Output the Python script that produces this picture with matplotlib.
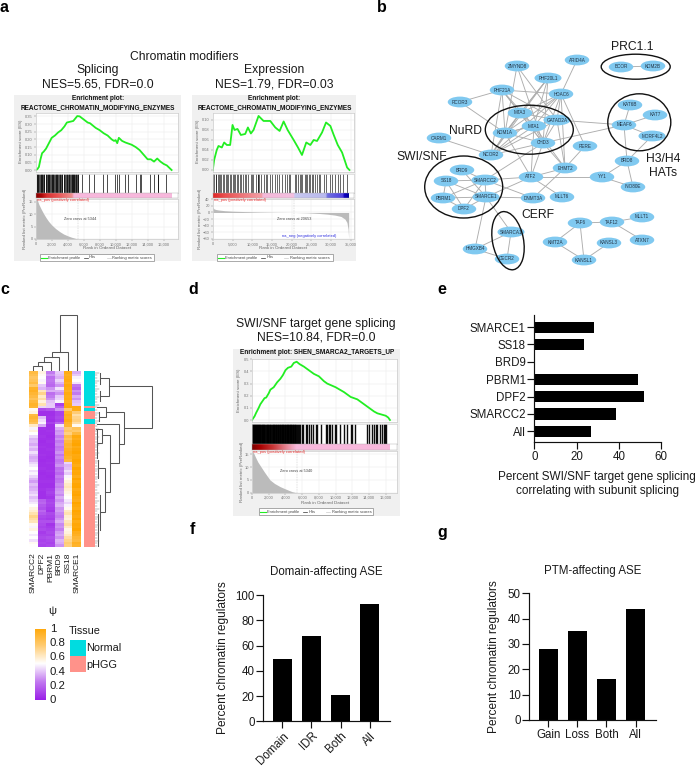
import numpy as np
import matplotlib
matplotlib.use("Agg")
import matplotlib.pyplot as plt
from matplotlib.colors import LinearSegmentedColormap
from matplotlib.patches import Ellipse, Rectangle

plt.rcParams['font.family'] = ['Liberation Sans', 'DejaVu Sans']
W, H = 697, 767

# ---------- panel a/d data ----------
a1_rank = [0,200,400,600,800,1000,1300,1600,2000,2400,2800,3200,3600,3900,4300,4700,5200,5500,6000,6500,6800,7500,8000,8500,9000,9500,9800,10000,10200,10400,10800,11200,12000,12500,13000,13500,14000,14400,14800,15200,15600,16000,16400,17000]
a1_es = [0,.005,.02,.07,.11,.12,.14,.17,.21,.225,.245,.26,.285,.31,.315,.32,.352,.35,.33,.31,.305,.275,.26,.24,.225,.20,.19,.195,.175,.21,.19,.18,.165,.15,.13,.10,.07,.07,.055,.075,.055,.04,.03,0]
a1_hits = [120,200,280,310,420,500,620,700,760,840,950,1020,1100,1240,1310,1400,1480,1560,1620,1700,1840,1900,1980,2050,2140,2200,2300,2420,2480,2560,2640,2700,2760,2900,3000,3060,3180,3240,3320,3500,3600,3680,3760,3860,3950,4060,4120,4180,4260,4400,4480,4560,4640,4700,4760,4850,4940,5000,5080,5150,5240,5320,5760,6720,7300,8390,8890,9940,10230,10480,11190,11600,12570,13070,13150,14320,14820,15240,15360,16280]
a1_mrank = [0,200,400,700,1000,1300,1600,2000,2500,3000,3500,4000,4500,5000,5344,17000]
a1_metric = [16.2,15.8,14,12,10.2,8.6,7.2,5.7,4.2,3,2,1.3,.7,.25,0,0]

a2_rank = [0,340,1000,1440,2290,2880,3560,4400,5000,5500,6270,7110,8220,8900,9650,10330,11600,12870,13720,14570,15840,16940,17960,18970,20500,21600,22610,23700,24730,25580,26430,27700,28710,29810,30660,31680,32780,34050,34640]
a2_es = [0,.02,.04,.048,.045,.055,.05,.05,.09,.08,.082,.07,.072,.085,.073,.08,.108,.098,.098,.098,.085,.078,.097,.08,.06,.045,.03,.055,.05,.06,.058,.075,.095,.088,.07,.05,.035,.005,0]
a2_hits = [150,420,700,900,1250,1500,1800,2200,2500,2800,3300,3500,3900,4400,4600,5100,5300,5600,6200,6500,6900,7100,7700,8200,8400,8800,9600,9900,10300,11000,11400,11500,11700,12200,12900,13400,13800,14500,15000,15700,16300,16800,17600,18300,18800,19300,19700,20900,21100,21700,22000,22300,22700,23300,23600,24000,24300,24700,25100,25500,25900,26400,26800,27200,28100,28700,29600,30300,30900,31700,32300,33100,34000]
a2_mrank = [0,300,800,1500,3000,5000,8000,12000,16000,20650,24000,27000,29000,31000,32500,33500,34000,34300,34450]
a2_metric = [16,11,9,7.5,5.5,4,2.8,1.5,.6,0,-1,-3,-5,-8,-12,-20,-30,-50,-80]

d_rank = [0,300,500,800,1000,1200,1500,1700,2000,2200,2600,3000,3400,3700,4000,4300,4700,5000,5340,5700,6200,6800,7400,8000,8600,9000,10000,11000,11800,12600,13400,14000,14600,15000,15500,16000,16300,16500]
d_es = [0,.03,.06,.10,.13,.15,.18,.185,.22,.25,.27,.31,.34,.37,.41,.43,.44,.47,.48,.46,.44,.41,.38,.36,.32,.30,.27,.23,.19,.17,.13,.10,.07,.055,.045,.035,.02,0]
d_hits = [30,90,150,210,270,330,390,450,510,570,640,700,760,820,880,950,1010,1070,1150,1230,1280,1360,1420,1490,1600,1680,1750,1830,1890,1950,2050,2130,2190,2250,2400,2470,2530,2600,2680,2760,2840,2900,3000,3090,3150,3220,3300,3380,3460,3530,3600,3680,3760,3830,3900,3980,4060,4130,4200,4280,4350,4430,4500,4570,4650,4720,4800,4870,4950,5020,5100,5170,5250,5330,5540,5650,5760,6000,6120,6500,6620,6800,7100,7250,7640,7800,8300,8850,9000,9200,9350,9600,9900,10100,10500,11000,11400,11900,12000,12300,13750,14000,14400,14650,14800,15000,15300,15500,15750,15900,16050]
d_mrank = [0,200,400,700,1100,1500,2150,2700,3350,3900,4350,4800,5340,16500]
d_metric = [16.2,15.5,14,12,10,8,5,3.6,2.4,1.6,1,.4,0,0]

strip_pos = [(0,'#8B0000'),(700,'#B00808'),(1300,'#D83030'),(2600,'#E85050'),(4500,'#F09090'),(4700,'#F8B8DC'),(17000,'#F8B8DC')]
strip_d = [(0,'#7A0000'),(900,'#A80000'),(2500,'#C83838'),(4200,'#E88A9A'),(5300,'#F8B8DC'),(16500,'#F8B8DC')]
strip_exp = [(0,'#E02828'),(3000,'#EA5050'),(12400,'#F4A0A8'),(12600,'#F4B8D8'),(20500,'#F4C0E0'),(20700,'#C8C8F0'),(28700,'#B8B8EE'),(29000,'#7070E0'),(33000,'#5040E0'),(33400,'#1000C0'),(34450,'#0000A0')]

# ---------- panel b data ----------
node_names = ['ARID4A','ZMYND8','BCOR','KDM2B','PHF20L1','PHF21A','HDAC6','RCOR3','KAT6B','KAT7','MTA3','GATAD2A','MEAF6','MTA1','KDM1A','MORF4L2','CARM1','CHD3','RERE','NCOR2','BRD8','EHMT2','BRD9','ATF2','YY1','SMARCC2','SS18','INO80E','SMARCE1','PBRM1','DNMT3A','MLLT6','DPF2','MLLT1','TAF6','TAF12','SMARCA1','ATXN7','KMT2A','KANSL3','HMGXB4','CECR2','KANSL1']
node_x = [577,517,621,653,548,502,561,460,630,655,520,557,624,534,505,652,439,543,585,491,627,565,462,531,602,485,446,633,486,443,533,562,464,642,580,612,511,642,555,609,475,507,584]
node_y = [60,66,67,66,78,90,94,102,105,115,113,120,125,126,133,136,138,143,146,155,161,168,170,177,177,180,181,187,197,198,198,197,209,217,223,222,232,240,242,243,249,259,260]
edges = ['ARID4A-HDAC6','ZMYND8-GATAD2A','ZMYND8-CHD3','ZMYND8-KDM1A','PHF20L1-KDM1A','PHF20L1-MTA1','PHF20L1-MTA3','PHF20L1-CHD3','PHF20L1-NCOR2','PHF21A-RCOR3','PHF21A-HDAC6','PHF21A-MTA1','PHF21A-KDM1A','PHF21A-CHD3','PHF21A-GATAD2A','PHF21A-NCOR2','PHF21A-MTA3','RCOR3-KDM1A','HDAC6-KDM1A','HDAC6-MTA1','HDAC6-MTA3','HDAC6-GATAD2A','HDAC6-CHD3','HDAC6-NCOR2','HDAC6-EHMT2','HDAC6-RERE','MTA3-KDM1A','MTA3-MTA1','MTA3-GATAD2A','MTA3-CHD3','MTA1-KDM1A','MTA1-GATAD2A','MTA1-CHD3','KDM1A-CHD3','KDM1A-GATAD2A','GATAD2A-CHD3','GATAD2A-MEAF6','CHD3-MEAF6','NCOR2-MTA1','NCOR2-CHD3','NCOR2-GATAD2A','NCOR2-MTA3','NCOR2-CARM1','NCOR2-KDM1A','RERE-EHMT2','GATAD2A-EHMT2','CHD3-EHMT2','MTA1-EHMT2','ATF2-CHD3','ATF2-MTA1','ATF2-KDM1A','ATF2-EHMT2','ATF2-SMARCC2','ATF2-SMARCE1','ATF2-YY1','ATF2-MLLT6','EHMT2-DNMT3A','SMARCC2-CHD3','SMARCC2-BRD9','SMARCC2-SS18','SMARCC2-PBRM1','SMARCC2-SMARCE1','SMARCC2-DPF2','SMARCC2-DNMT3A','SMARCE1-BRD9','SMARCE1-SS18','SMARCE1-PBRM1','SMARCE1-DPF2','SMARCE1-DNMT3A','SS18-PBRM1','SS18-DPF2','PBRM1-DPF2','SMARCE1-SMARCA1','SMARCE1-HMGXB4','SMARCA1-HMGXB4','SMARCA1-CECR2','HMGXB4-CECR2','YY1-BRD8','YY1-INO80E','BRD8-INO80E','BRD8-MEAF6','BRD8-MORF4L2','MEAF6-KAT6B','MEAF6-KAT7','MEAF6-MORF4L2','BCOR-KDM2B','TAF6-TAF12','TAF6-KMT2A','TAF6-KANSL1','TAF12-MLLT1','TAF12-ATXN7','KMT2A-KANSL1','KANSL3-KANSL1']
groups = [('PRC1.1',635.7,66.7,69,25,0),('HATs',639.3,122.3,63,57,0),('NuRD',529.3,129.7,88,49,0),('SWI',463.7,187,78,62,0),('CERF',508,240.7,31,59,-11)]
group_labels = [('PRC1.1',632,46.5),('NuRD',465.5,131),('SWI/SNF',422,157.5),('CERF',538,215),('H3/H4',663,158.5),('HATs',663,172.5)]

# ---------- panel c data ----------
genes = ['SMARCC2','DPF2','PBRM1','BRD9','SS18','SMARCE1']
psi_smarcc2 = [.85,.82,.78,.80,.84,.76,.90,.92,.88,.85,.80,
               .86,.90,.88,.52,.55,.85,.88,.85,.80,.60,.48,
               .56,.50,.42,.36,.38,.34,.40,.36,.44,.38,.34,
               .36,.42,.46,.50,.44,.48,.42,.36,.32,.38,.34,
               .36,.40,.44,.38,.42,.46,.50,.55,.58,.64,.70,
               .66,.62,.52,.48,.55,.50,.46,.50,.44,.52,.50]
psi_dpf2 = [.55,.52,.50,.48,.52,.40,.36,.62,.70,.60,.66,
            .56,.64,.42,.12,.05,.05,.38,.44,.48,.34,.06,
            .05,.05,.06,.05,.04,.05,.06,.05,.05,.06,.05,
            .04,.05,.05,.06,.05,.04,.05,.05,.06,.05,.05,
            .06,.05,.05,.05,.18,.20,.16,.14,.20,.16,.12,
            .10,.14,.12,.10,.12,.08,.10,.12,.10,.12,.10]
psi_pbrm1 = [.25,.30,.22,.24,.22,.20,.30,.35,.22,.25,.30,
             .38,.40,.40,.15,.05,.05,.06,.05,.10,.05,.05,
             .06,.05,.04,.05,.06,.05,.05,.06,.05,.05,.04,
             .05,.06,.05,.05,.06,.05,.04,.05,.06,.05,.05,
             .08,.10,.08,.06,.10,.12,.10,.08,.06,.12,.10,
             .08,.14,.06,.08,.10,.12,.10,.14,.12,.10,.12]
psi_brd9 = [.40,.38,.35,.42,.36,.30,.45,.35,.30,.40,.42,
            .48,.10,.18,.30,.10,.10,.12,.10,.20,.45,.35,
            .30,.32,.26,.30,.25,.28,.24,.26,.30,.24,.28,
            .24,.26,.30,.22,.24,.20,.26,.22,.24,.28,.26,
            .30,.32,.28,.34,.30,.34,.36,.30,.32,.28,.26,
            .30,.34,.28,.30,.26,.32,.34,.30,.36,.34,.30]
psi_ss18 = [.95,.92,.94,.96,.93,.97,.95,.92,.96,.94,.95,
            .92,.96,.97,.76,.90,.94,.92,.95,.90,.88,.74,
            .78,.72,.84,.80,.86,.90,.88,.92,.94,.93,.90,
            .86,.42,.36,.38,.44,.40,.48,.52,.56,.60,.62,
            .58,.55,.52,.50,.46,.42,.48,.52,.60,.64,.58,
            .56,.62,.66,.60,.54,.56,.60,.66,.70,.74,.72]
psi_smarce1 = [.35,.40,.48,.50,.45,.25,.20,.30,.25,.35,.30,
               .38,.40,.96,.95,.74,.65,.70,.72,.66,.52,.80,
               .76,.86,.97,.94,.98,1,.95,.98,1,.96,.97,
               1,.98,.95,1,.97,.98,.94,1,.96,.99,1,
               .95,.98,1,.96,.94,1,.97,.95,1,.98,.96,
               1,.95,.98,.97,1,.94,.92,.88,.86,.92,.90]
psi_matrix = np.array([psi_smarcc2, psi_dpf2, psi_pbrm1, psi_brd9, psi_ss18, psi_smarce1]).T
tissue_rows = [0]*13 + [1] + [0] + [1]*3 + [0]*2 + [1]*46
psi_ticks = [1, .8, .6, .4, .2, 0]

# ---------- bar data ----------
e_names = ['SMARCE1','SS18','BRD9','PBRM1','DPF2','SMARCC2','All']
e_vals = [28.4,23.7,0,49.3,52.1,38.7,26.7]
f_names = ['Domain','IDR','Both','All']
f_vals = [49,67.5,21,93]
g_names = ['Gain','Loss','Both','All']
g_vals = [28,35,16,44]

# ---------- figure ----------
fig = plt.figure(figsize=(W/100, H/100), dpi=100, facecolor='white')
def axpx(x0, y0, x1, y1, **kw):
    return fig.add_axes([x0/W, 1-y1/H, (x1-x0)/W, (y1-y0)/H], **kw)

ov = axpx(0, 0, W, H, zorder=0)
ov.set_xlim(0, W); ov.set_ylim(H, 0); ov.axis('off')

def txt(x, y, s, size=8.6, **kw):
    kw.setdefault('ha', 'center'); kw.setdefault('va', 'center'); kw.setdefault('color', '#1a1a1a')
    return ov.text(x, y, s, fontsize=size, **kw)

def style_small(ax):
    for s in ax.spines.values():
        s.set_color('#cccccc'); s.set_linewidth(.5)
    ax.tick_params(length=1.2, width=.3, labelsize=2.9, colors='#777777', pad=1)
    ax.grid(True, color='#e6e6e6', lw=.3)
    ax.set_axisbelow(True)

def gsea(bg, ax_x, es_y, hit_y, strip_y, met_y, xmax, rank, es, es_lim, es_ticks, es_fmt,
         hits, hit_lw, hit_alpha, strip, mrank, metric, met_lim, met_ticks, xticks,
         title, tx, ty, ly1, ly2, zero, zx, zy, lbox, xlab_y, neg=None):
    ov.add_patch(Rectangle((bg[0], bg[1]), bg[2]-bg[0], bg[3]-bg[1], color='#f0f0f0', lw=0, zorder=0))
    for i, t in enumerate(title):
        txt(tx, ty + i*8.2, t, size=4.7, weight='bold', color='#111111')
    ax = axpx(ax_x[0], es_y[0], ax_x[1], es_y[1], zorder=2)
    ax.plot(rank, es, color='#22ee22', lw=1.3)
    ax.set_xlim(0, xmax); ax.set_ylim(*es_lim)
    ax.set_yticks(es_ticks); ax.set_yticklabels([es_fmt.format(v) for v in es_ticks])
    ax.set_xticks(xticks); ax.tick_params(labelbottom=False)
    style_small(ax)
    ax.tick_params(axis='x', length=0)
    # hits
    ah = axpx(ax_x[0], hit_y[0], ax_x[1], hit_y[1], zorder=2)
    ah.vlines(hits, 0, 1, color='black', lw=hit_lw, alpha=hit_alpha)
    ah.set_xlim(0, xmax); ah.set_ylim(0, 1); ah.set_xticks([]); ah.set_yticks([])
    for s in ah.spines.values():
        s.set_color('#cccccc'); s.set_linewidth(.4)
    # colour strip
    aS = axpx(ax_x[0], strip_y[0], ax_x[1], strip_y[1], zorder=2)
    end = strip[-1][0]
    cm = LinearSegmentedColormap.from_list('s', [(p/end, c) for p, c in strip])
    aS.imshow(np.linspace(0, 1, 400)[None, :], extent=(0, end, 0, 1), aspect='auto', cmap=cm)
    aS.set_xlim(0, xmax); aS.set_ylim(0, 1); aS.set_xticks([]); aS.set_yticks([])
    for s in aS.spines.values():
        s.set_color('#aaaaaa'); s.set_linewidth(.3)
    # metric
    am = axpx(ax_x[0], met_y[0], ax_x[1], met_y[1], zorder=2)
    am.fill_between(mrank, 0, metric, color='#bbbbbb', lw=0)
    am.set_xlim(0, xmax); am.set_ylim(*met_lim)
    am.set_yticks(met_ticks); am.set_xticks(xticks)
    am.set_xticklabels([f'{v:,}' for v in xticks])
    style_small(am)
    am.axvline(zero, color='#aaaaaa', lw=.3, ls=(0, (2, 2)))
    # small texts drawn over the grey fill
    am.text(ax_x[0]+1, met_y[0]+1.4, 'na_pos (positively correlated)', fontsize=2.9, color='#e83030',
            ha='left', va='center', transform=ov.transData, zorder=6, clip_on=False)
    if neg:
        am.text(neg[0], neg[1], 'na_neg (negatively correlated)', fontsize=2.9, color='#3030e0',
                ha='center', va='center', transform=ov.transData, zorder=6, clip_on=False)
    am.text(zx, zy, f'Zero cross at {zero}', fontsize=2.8, color='#444444',
            ha='center', va='center', transform=ov.transData, zorder=6, clip_on=False)
    txt((ax_x[0]+ax_x[1])/2, xlab_y, 'Rank in Ordered Dataset', size=3.2, color='#666666')
    txt(ly1[0], ly1[1], 'Enrichment score (ES)', size=3.2, color='#666666', rotation=90)
    txt(ly2[0], ly2[1], 'Ranked list metric (PreRanked)', size=3.2, color='#666666', rotation=90)
    # legend box
    x0, y0, x1, y1 = lbox
    ov.add_patch(Rectangle((x0, y0), x1-x0, y1-y0, fc='white', ec='#888888', lw=.5, zorder=1))
    ym = (y0+y1)/2
    ov.plot([x0+.7, x0+6.7], [ym, ym], color='#22ee22', lw=.8, zorder=2)
    ov.plot([x0+44, x0+47.7], [ym, ym], color='#333333', lw=.5, zorder=2)
    ov.plot([x0+66.7, x0+71], [ym, ym], color='#cccccc', lw=.5, zorder=2)
    txt(x0+8, ym, 'Enrichment profile', size=2.9, ha='left', color='#444444', zorder=2)
    txt(x0+49, ym, 'Hits', size=2.9, ha='left', color='#444444', zorder=2)
    txt(x0+72.3, ym, 'Ranking metric scores', size=2.9, ha='left', color='#444444', zorder=2)

TITLE_A = ['Enrichment plot:', 'REACTOME_CHROMATIN_MODIFYING_ENZYMES']
gsea((14, 95, 181, 261), (35.7, 178), (112.7, 171.7), (174, 193.3), (193.3, 198.3), (199, 239), 17800,
     a1_rank, a1_es, (-0.011, 0.374), [0,.05,.10,.15,.20,.25,.30,.35], '{:.2f}',
     a1_hits, .7, .7, strip_pos, a1_mrank, a1_metric, (0, 16.2), [0,5,10,15],
     [0,2000,4000,6000,8000,10000,12000,14000,16000],
     TITLE_A, 98, 99, (21, 141), (25, 219), 5344, 80, 218.5, (40, 254, 154, 261), 248)
gsea((191.7, 95, 355.5, 261), (212.8, 354), (112.7, 171.7), (174, 193.3), (193.3, 198.3), (199, 239), 35800,
     a2_rank, a2_es, (-0.0034, 0.1145), [0,.02,.04,.06,.08,.10], '{:.2f}',
     a2_hits, .7, .6, strip_exp, a2_mrank, a2_metric, (-80.5, 41), [40,20,0,-20,-40,-60,-80],
     [0,5000,10000,15000,20000,25000,30000,35000],
     TITLE_A, 274.5, 99, (198, 141), (200.5, 219), 20653, 294, 218.5, (217.3, 254, 332.7, 261), 248, neg=(309, 236))
gsea((233.3, 349.3, 400, 516), (252, 397.3), (359.3, 421.7), (424, 444.3), (444.3, 450), (450.5, 492.7), 17380,
     d_rank, d_es, (-0.014, 0.5), [0,.1,.2,.3,.4,.5], '{:.1f}',
     d_hits, 1.0, .95, strip_d, d_mrank, d_metric, (0, 16.5), [0,5,10,15],
     [0,2000,4000,6000,8000,10000,12000,14000,16000],
     ['Enrichment plot: SHEN_SMARCA2_TARGETS_UP'], 316.7, 353, (239, 390), (241.7, 471.7), 5340,
     296, 471, (259.3, 508.3, 373.3, 515), 502.7)

txt(184.5, 56.5, 'Chromatin modifiers', 8.7)
txt(98, 70.5, 'Splicing', 8.7); txt(98, 84.5, 'NES=5.65, FDR=0.0', 8.7)
txt(274, 70.5, 'Expression', 8.7); txt(274, 84.5, 'NES=1.79, FDR=0.03', 8.7)
txt(316, 324, 'SWI/SNF target gene splicing', 8.7); txt(316, 338, 'NES=10.84, FDR=0.0', 8.7)

for s, x, y in [('a',4.5,7),('b',382,7),('c',4.5,290),('d',193,290),('e',442,290),('f',192,530),('g',442,532)]:
    txt(x, y, s, 11.5, weight='bold', color='black')

# ---------- network ----------
pos = {n: (x, y) for n, x, y in zip(node_names, node_x, node_y)}
for e in edges:
    a, b = e.split('-')
    ov.plot([pos[a][0], pos[b][0]], [pos[a][1], pos[b][1]], color='#adadad', lw=.65, zorder=1)
for n in node_names:
    w = 27 if len(n) >= 7 else 24.5
    ov.add_patch(Ellipse(pos[n], w, 10.8, fc='#80c9f0', ec='none', zorder=2))
    txt(pos[n][0], pos[n][1], n, 3.3, color='#223344', zorder=3)
for _, cx, cy, w, h, ang in groups:
    ov.add_patch(Ellipse((cx, cy), w, h, angle=ang, fc='none', ec='#111111', lw=1.0, zorder=4))
for s, x, y in group_labels:
    txt(x, y, s, 8.7)

# ---------- heatmap ----------
psi_cmap = LinearSegmentedColormap.from_list('psi', ['#9A1FE8', '#C27AF0', '#FFFFFF', '#FFCB70', '#FFA500'])
ah = axpx(29, 371.3, 81, 547.3, zorder=2)
ah.imshow(psi_matrix, aspect='auto', cmap=psi_cmap, vmin=0, vmax=1, interpolation='nearest')
ah.axis('off')
at = axpx(84, 371.3, 94.3, 547.3, zorder=2)
tis_cm = LinearSegmentedColormap.from_list('t', ['#00DCE0', '#FF928A'], N=2)
at.imshow(np.array(tissue_rows)[:, None], aspect='auto', cmap=tis_cm, interpolation='nearest')
at.axis('off')
cell = 52/6
for i, g in enumerate(genes):
    txt(29+cell*(i+.5), 552.5, g, 6, rotation=90, va='top')

# dendrograms
col_den = [[(33.3,371.3),(33.3,365.5),(41.8,365.5),(41.8,371.3)],
           [(37.6,365.5),(37.6,361.7),(50.7,361.7),(50.7,371.3)],
           [(44.2,361.7),(44.2,356.7),(59.3,356.7),(59.3,371.3)],
           [(51.7,356.7),(51.7,351.7),(68,351.7),(68,371.3)],
           [(60,351.7),(60,314.5),(76.7,314.5),(76.7,371.3)]]
row_den = [[(108.7,385.7),(152.3,385.7),(152.3,427.7),(124.3,427.7)],
           [(106,411.7),(124.3,411.7),(124.3,444),(119.3,444)],
           [(100,377.7),(108.7,377.7),(108.7,396),(100,396)],
           [(97,406.7),(106,406.7),(106,416.7),(99,416.7)],
           [(97,424.3),(119.3,424.3),(119.3,463.3),(110,463.3)],
           [(101.7,435),(110,435),(110,491.7),(105,491.7)],
           [(96,428.5),(101.7,428.5),(101.7,443.3),(97,443.3)],
           [(98.3,468.3),(105,468.3),(105,511.7),(100,511.7)],
           [(100,372.5),(100,384)],[(100,391),(100,401)],[(99,412),(99,421)],
           [(97,430),(97,458)],[(98.3,460),(98.3,478)],[(100,495),(100,530)],[(97.5,514),(97.5,546)]]
for seg in col_den + row_den:
    xs, ys = zip(*seg)
    ov.plot(xs, ys, color='#555555', lw=.75, zorder=1, solid_joinstyle='miter')
for r in range(66):
    y = 371.3 + (r+.5)*176/66
    ov.plot([94.6, 96.6 + (r % 3 == 0)*2.2], [y, y], color='#777777', lw=.35, zorder=1)

# colour legend
txt(52, 611.5, 'ψ', 8)
acb = axpx(35.3, 628.5, 45.7, 700.5, zorder=2)
acb.imshow(np.linspace(1, 0, 256)[:, None], aspect='auto', cmap=psi_cmap, vmin=0, vmax=1, extent=(0,1,0,1))
acb.set_xticks([]); acb.set_yticks([])
for s in acb.spines.values():
    s.set_visible(False)
for v in psi_ticks:
    txt(50, 700 - v*71, f'{v:g}', 8.2, ha='left')
txt(69, 631.5, 'Tissue', 7.8, ha='left')
ov.add_patch(Rectangle((70, 640), 15.5, 16, color='#00DCE0', lw=0))
ov.add_patch(Rectangle((70, 656), 15.5, 16, color='#FF928A', lw=0))
txt(86, 648, 'Normal', 7.8, ha='left')
txt(86, 664.5, 'pHGG', 7.8, ha='left')

# ---------- bars ----------
def clean(ax):
    ax.spines['top'].set_visible(False); ax.spines['right'].set_visible(False)
    for s in ('left', 'bottom'):
        ax.spines[s].set_linewidth(.85); ax.spines[s].set_color('#111111')
    ax.tick_params(width=.85, length=4.8, labelsize=8.3, color='#111111', labelcolor='#1a1a1a', pad=1.5)

ae = axpx(534.3, 315, 661, 442, zorder=2)
ey = np.arange(len(e_names))
ae.barh(ey, e_vals, height=.65, color='black')
ae.set_xlim(0, 60)
ae.set_ylim(len(e_names)-1+.62, -.7)
ae.set_yticks(ey); ae.set_yticklabels(e_names); ae.set_xticks([0,20,40,60])
clean(ae); ae.patch.set_alpha(0)
txt(597, 477, 'Percent SWI/SNF target gene splicing', 8.5)
txt(597, 491, 'correlating with subunit splicing', 8.5)

af = axpx(263.3, 595, 390.3, 721.3, zorder=2)
fx = np.arange(4)
af.bar(fx, f_vals, width=.66, color='black')
af.set_xlim(-.65, 3.7); af.set_ylim(0, 100)
af.set_yticks(range(0, 101, 20)); af.set_xticks(fx)
af.set_xticklabels(f_names, rotation=45, ha='right', rotation_mode='anchor')
clean(af)
txt(326, 572.3, 'Domain-affecting ASE', 8.3)
txt(222.7, 658, 'Percent chromatin regulators', 8.6, rotation=90)

ag = axpx(529.3, 593.3, 656, 720, zorder=2)
ag.bar(fx, g_vals, width=.66, color='black')
ag.set_xlim(-.65, 3.7); ag.set_ylim(0, 50)
ag.set_yticks(range(0, 51, 10)); ag.set_xticks(fx); ag.set_xticklabels(g_names)
clean(ag)
txt(592.3, 570.7, 'PTM-affecting ASE', 8.3)
txt(494.3, 656.7, 'Percent chromatin regulators', 8.6, rotation=90)

fig.savefig('out.png', dpi=100)
